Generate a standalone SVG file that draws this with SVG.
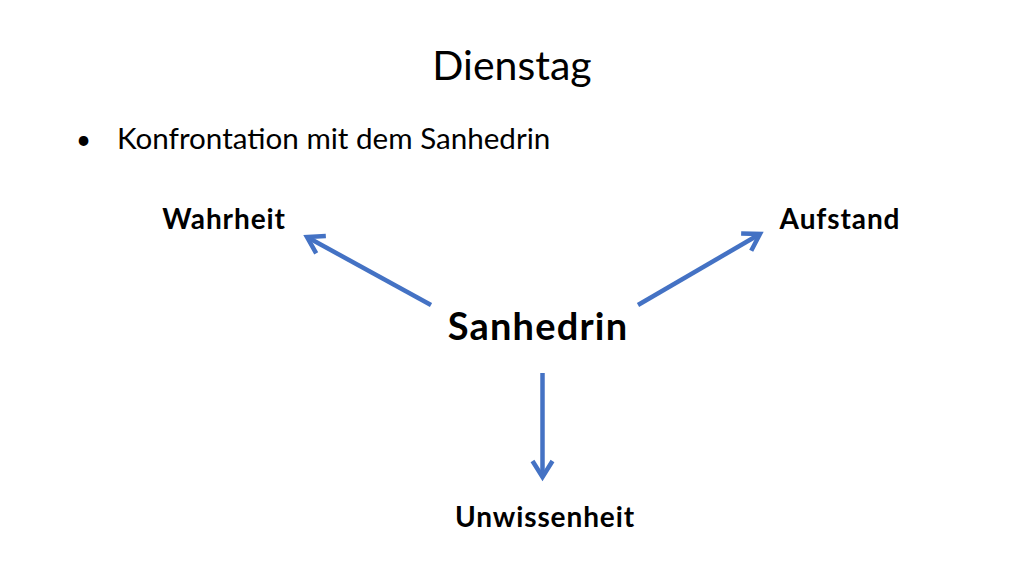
<svg xmlns="http://www.w3.org/2000/svg" width="1024" height="576" viewBox="0 0 1024 576">
<style>
text{font-family:Lato,"Open Sans","Liberation Sans",sans-serif;fill:#000}
.lbl{font-size:28px;font-weight:bold;letter-spacing:0.9px}
.arr{stroke:#4472C4;stroke-width:4.5;fill:none;stroke-linecap:butt}
</style>
<defs>
<marker id="ah" viewBox="0 0 12 12" refX="10" refY="6" markerWidth="12" markerHeight="12" markerUnits="userSpaceOnUse" orient="auto" overflow="visible">
<path d="M-6,-4 L10,6 L-6,16" fill="none" stroke="#4472C4" stroke-width="4.5" stroke-linejoin="miter"/>
</marker>
</defs>
<rect width="1024" height="576" fill="#fff"/>
<g id="title"><text x="512" y="80" text-anchor="middle" style="font-size:41px;font-weight:400">Dienstag</text></g>
<g id="bullet"><text x="76" y="149" style="font-size:26px">•</text><text x="117" y="149" style="font-size:29.6px">Konfrontation mit dem Sanhedrin</text></g>
<g id="wahrheit"><text class="lbl" x="224" y="229" text-anchor="middle">Wahrheit</text></g>
<g id="aufstand"><text class="lbl" x="840" y="229" text-anchor="middle">Aufstand</text></g>
<g id="sanhedrin"><text x="538" y="340" text-anchor="middle" style="font-size:38px;font-weight:bold;letter-spacing:1.2px">Sanhedrin</text></g>
<g id="unwissenheit"><text class="lbl" x="545" y="527" text-anchor="middle">Unwissenheit</text></g>
<g id="connectors">
<line class="arr" x1="431" y1="305" x2="307" y2="237" marker-end="url(#ah)"/>
<line class="arr" x1="638" y1="305" x2="760" y2="234" marker-end="url(#ah)"/>
<line class="arr" x1="542.5" y1="373" x2="542.5" y2="477" marker-end="url(#ah)"/>
</g>
</svg>
